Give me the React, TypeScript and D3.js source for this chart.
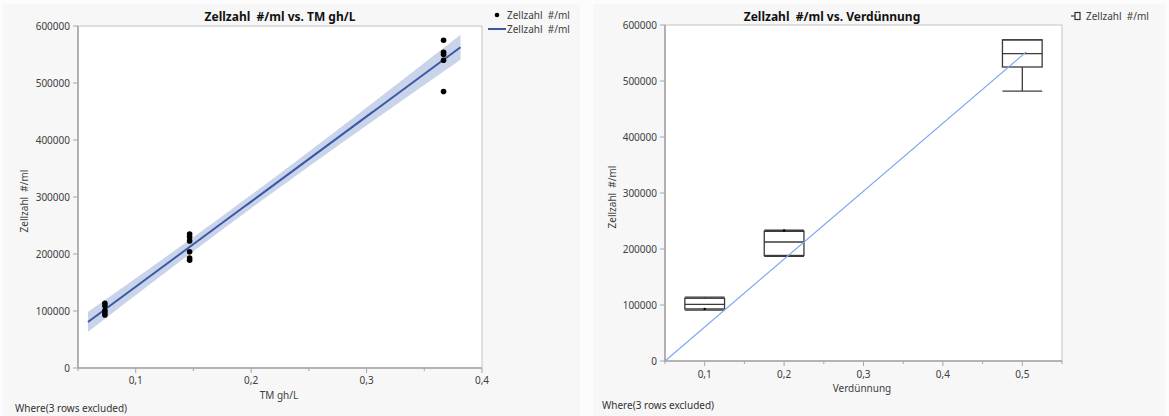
import React, { useEffect } from "react";
import * as d3 from "d3";

// ---------- Data ----------
const tmX: number[] = [
  0.0733, 0.0733, 0.0733, 0.0733, 0.0733,
  0.1467, 0.1467, 0.1467, 0.1467, 0.1467, 0.1467,
  0.3667, 0.3667, 0.3667, 0.3667, 0.3667,
];
const zellY: number[] = [
  113500, 109000, 101000, 97000, 93000,
  235000, 230000, 223000, 204000, 193000, 189000,
  575000, 554000, 550000, 540000, 485000,
];

const verdCats: number[] = [0.1, 0.2, 0.5];
const boxMin: number[] = [91000, 187000, 482000];
const boxQ1: number[] = [93000, 188500, 525000];
const boxMed: number[] = [101000, 212500, 549000];
const boxQ3: number[] = [112000, 231500, 573500];
const boxMax: number[] = [114000, 233500, 573500];
const boxDot: number[] = [93000, 233000, NaN];

const refLineX: number[] = [0.05, 0.505];
const refLineY: number[] = [0, 552000];

const yTicks: number[] = [0, 100000, 200000, 300000, 400000, 500000, 600000];
const x1Major: number[] = [0.1, 0.2, 0.3, 0.4];
const x1Minor: number[] = [0.05, 0.15, 0.25, 0.35];
const x2Major: number[] = [0.1, 0.2, 0.3, 0.4, 0.5];
const x2Minor: number[] = [0.05, 0.15, 0.25, 0.35, 0.45, 0.55];

const title1 = "Zellzahl  #/ml vs. TM gh/L";
const title2 = "Zellzahl  #/ml vs. Verdünnung";
const yLabel = "Zellzahl  #/ml";
const x1Label = "TM gh/L";
const x2Label = "Verdünnung";
const whereText = "Where(3 rows excluded)";

const FONT = "'Noto Sans', 'Open Sans', sans-serif";
const fmtX = (v: number) => d3.format(".1f")(v).replace(".", ",");

// ---------- regression ----------
function linFit(xs: number[], ys: number[]) {
  const n = xs.length;
  const mx = d3.mean(xs)!;
  const my = d3.mean(ys)!;
  let sxx = 0, sxy = 0;
  for (let i = 0; i < n; i++) {
    sxx += (xs[i] - mx) ** 2;
    sxy += (xs[i] - mx) * (ys[i] - my);
  }
  const b = sxy / sxx;
  const a = my - b * mx;
  let sse = 0;
  for (let i = 0; i < n; i++) sse += (ys[i] - (a + b * xs[i])) ** 2;
  const s = Math.sqrt(sse / (n - 2));
  const t = 2.145; // t(0.975, 14)
  return { a, b, mx, sxx, s, n, t };
}

function Axes(props: {
  x: d3.ScaleLinear<number, number>;
  y: d3.ScaleLinear<number, number>;
  major: number[];
  minor: number[];
  tickLabelY: number;
}) {
  const { x, y, major, minor, tickLabelY } = props;
  const [x0, x1] = x.range();
  const [y0, y1] = y.range();
  const axisColor = "#a6a6a6";
  return (
    <g>
      <rect x={x0} y={y1} width={x1 - x0} height={y0 - y1} fill="#ffffff" stroke="#c4c4c4" strokeWidth={1} />
      <line x1={x0} x2={x0} y1={y1} y2={y0} stroke={axisColor} strokeWidth={1.6} />
      <line x1={x0} x2={x1} y1={y0} y2={y0} stroke={axisColor} strokeWidth={1.6} />
      {yTicks.map((t) => (
        <g key={"y" + t}>
          <line x1={x0 - 5} x2={x0} y1={y(t)} y2={y(t)} stroke={axisColor} strokeWidth={1} />
          <text x={x0 - 8} y={y(t) + 3.5} textAnchor="end" fontSize={10} fill="#404040" fontFamily={FONT}>
            {t}
          </text>
        </g>
      ))}
      {major.map((t) => (
        <g key={"xM" + t}>
          <line x1={x(t)} x2={x(t)} y1={y0} y2={y0 + 5} stroke={axisColor} strokeWidth={1} />
          <text x={x(t)} y={tickLabelY} textAnchor="middle" fontSize={10} fill="#404040" fontFamily={FONT}>
            {fmtX(t)}
          </text>
        </g>
      ))}
      {minor.map((t) => (
        <line key={"xm" + t} x1={x(t)} x2={x(t)} y1={y0} y2={y0 + 3} stroke={axisColor} strokeWidth={1} />
      ))}
    </g>
  );
}

export default function App() {
  useEffect(() => {
    document.body.style.margin = "0";
  }, []);

  const W = 1169, H = 416;

  // Chart 1 scales
  const x1 = d3.scaleLinear().domain([0.05, 0.4]).range([78, 482]);
  const y1 = d3.scaleLinear().domain([0, 600000]).range([368, 26]);
  const fit = linFit(tmX, zellY);
  const [dxMin, dxMax] = d3.extent(tmX) as [number, number];
  const pad = (dxMax - dxMin) * 0.05;
  const gridX = d3.range(0, 101).map((i) => dxMin - pad + ((dxMax - dxMin + 2 * pad) * i) / 100);
  const band = gridX.map((xv) => {
    const yh = fit.a + fit.b * xv;
    const se = fit.s * Math.sqrt(1 / fit.n + (xv - fit.mx) ** 2 / fit.sxx);
    return { x: xv, lo: yh - fit.t * se, hi: yh + fit.t * se, y: yh };
  });
  const areaGen = d3
    .area<{ x: number; lo: number; hi: number }>()
    .x((d) => x1(d.x))
    .y0((d) => y1(d.lo))
    .y1((d) => y1(d.hi));
  const lineGen = d3
    .line<{ x: number; y: number }>()
    .x((d) => x1(d.x))
    .y((d) => y1(d.y));

  // Chart 2 scales
  const x2 = d3.scaleLinear().domain([0.05, 0.55]).range([665, 1062]);
  const y2 = d3.scaleLinear().domain([0, 600000]).range([361, 25]);
  const boxHalf = (x2(0.125) - x2(0.075)) / 2;
  const refPts = refLineX.map((v, i) => ({ x: v, y: refLineY[i] }));
  const refGen = d3
    .line<{ x: number; y: number }>()
    .x((d) => x2(d.x))
    .y((d) => y2(d.y));

  const boxStroke = "#3a3a3a";

  return (
    <svg width={W} height={H} style={{ display: "block" }} fontFamily={FONT}>
      <rect x={0} y={0} width={W} height={H} fill="#fcfcfc" />
      <rect x={3} y={4} width={577} height={H - 4} fill="#f7f7f7" />
      <rect x={593} y={4} width={572} height={H - 4} fill="#f7f7f7" />

      {/* ---------- Chart 1 ---------- */}
      <text x={280} y={21} textAnchor="middle" fontSize={12} fontWeight="bold" fill="#111" style={{ whiteSpace: "pre" }}>
        {title1}
      </text>
      <Axes x={x1} y={y1} major={x1Major} minor={x1Minor} tickLabelY={384} />
      <path d={areaGen(band) || ""} fill="#c3cfe8" opacity={0.9} />
      <path d={lineGen(band) || ""} fill="none" stroke="#3b58a6" strokeWidth={2} />
      {tmX.map((xv, i) => (
        <circle key={"p" + i} cx={x1(xv)} cy={y1(zellY[i])} r={2.8} fill="#000" />
      ))}
      <text x={279} y={399} textAnchor="middle" fontSize={10} fill="#404040">
        {x1Label}
      </text>
      <text
        transform={`translate(28,201) rotate(-90)`}
        textAnchor="middle"
        fontSize={10}
        fill="#404040"
        style={{ whiteSpace: "pre" }}
      >
        {yLabel}
      </text>
      {/* legend 1 */}
      <circle cx={497} cy={15} r={2.3} fill="#000" />
      <text x={507} y={19} fontSize={10} fill="#404040" style={{ whiteSpace: "pre" }}>
        {yLabel}
      </text>
      <line x1={488} x2={506} y1={29} y2={29} stroke="#3b58a6" strokeWidth={2} />
      <text x={507} y={33} fontSize={10} fill="#404040" style={{ whiteSpace: "pre" }}>
        {yLabel}
      </text>
      <text x={15} y={412} fontSize={10} fill="#333">
        {whereText}
      </text>

      {/* ---------- Chart 2 ---------- */}
      <text x={832} y={21} textAnchor="middle" fontSize={12} fontWeight="bold" fill="#111" style={{ whiteSpace: "pre" }}>
        {title2}
      </text>
      <Axes x={x2} y={y2} major={x2Major} minor={x2Minor} tickLabelY={378} />
      {verdCats.map((c, i) => {
        const cx = x2(c);
        return (
          <g key={"b" + i} stroke={boxStroke} fill="none" strokeWidth={1.3}>
            <line x1={cx} x2={cx} y1={y2(boxQ1[i])} y2={y2(boxMin[i])} />
            <line x1={cx} x2={cx} y1={y2(boxQ3[i])} y2={y2(boxMax[i])} />
            <line x1={cx - boxHalf} x2={cx + boxHalf} y1={y2(boxMin[i])} y2={y2(boxMin[i])} />
            <line x1={cx - boxHalf} x2={cx + boxHalf} y1={y2(boxMax[i])} y2={y2(boxMax[i])} />
            <rect x={cx - boxHalf} y={y2(boxQ3[i])} width={2 * boxHalf} height={y2(boxQ1[i]) - y2(boxQ3[i])} />
            <line x1={cx - boxHalf} x2={cx + boxHalf} y1={y2(boxMed[i])} y2={y2(boxMed[i])} />
            {!isNaN(boxDot[i]) && (
              <circle cx={cx} cy={y2(boxDot[i])} r={1.2} fill="#000" stroke="none" />
            )}
          </g>
        );
      })}
      <path d={refGen(refPts) || ""} fill="none" stroke="#7ea6f2" strokeWidth={1.2} />
      <text x={862} y={392} textAnchor="middle" fontSize={10} fill="#404040">
        {x2Label}
      </text>
      <text
        transform={`translate(616,197) rotate(-90)`}
        textAnchor="middle"
        fontSize={10}
        fill="#404040"
        style={{ whiteSpace: "pre" }}
      >
        {yLabel}
      </text>
      {/* legend 2 */}
      <g stroke="#333" strokeWidth={1.2} fill="none">
        <line x1={1071} x2={1075} y1={16} y2={16} />
        <rect x={1075} y={12.5} width={5} height={7} />
      </g>
      <text x={1086} y={20} fontSize={10} fill="#404040" style={{ whiteSpace: "pre" }}>
        {yLabel}
      </text>
      <text x={602} y={409} fontSize={10} fill="#333">
        {whereText}
      </text>
    </svg>
  );
}
